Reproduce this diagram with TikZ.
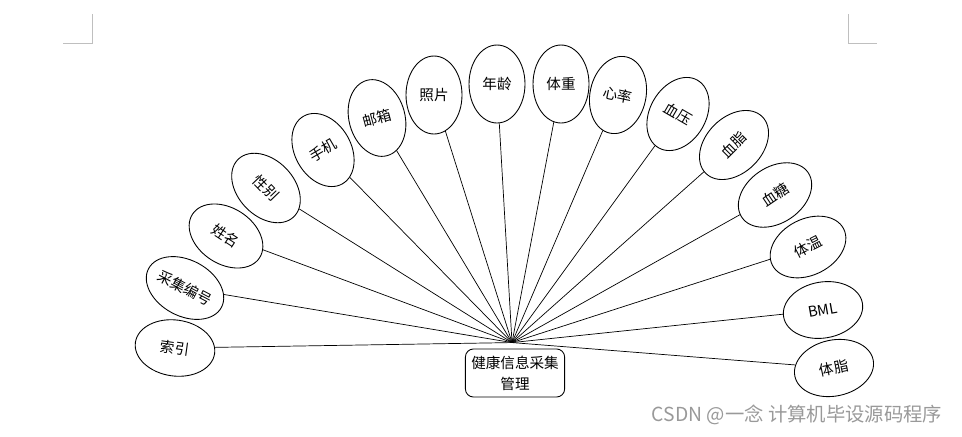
\documentclass[tikz,border=0pt]{standalone}
\usepackage{fontspec}
\setmainfont{Noto Sans CJK SC}
\usepackage{tikz}
\usetikzlibrary{shapes.geometric,positioning}

\begin{document}
\begin{tikzpicture}[x=0.02cm,y=-0.02cm,
    attrw/.style={draw,ellipse,line width=0.5pt,inner sep=0pt,minimum width=1.6cm,minimum height=1.12cm,font=\fontsize{8.3}{10}\selectfont},
    attrt/.style={attrw,minimum width=1.12cm,minimum height=1.56cm},
    entity/.style={draw,rounded corners=0.16cm,line width=0.5pt,align=center,minimum width=1.96cm,minimum height=0.96cm,font=\fontsize{8.3}{12}\selectfont}]
    \useasboundingbox (0,0) rectangle (962,436);
    % page corner marks
    \draw[black!25] (63,43) -- (92,43) -- (92,14);
    \draw[black!25] (848,14) -- (848,43) -- (877,43);
    \node[entity] (health) at (515,373) {健康信息采集\\管理};
    \coordinate (hub) at ([xshift=-0.06cm,yshift=0.12cm]health.north);
    % attributes, left to right
    \node[attrw,rotate=-8] (suoyin) at (175,348) {索引};
    \node[attrw,rotate=-28] (bianhao) at (185,288) {采集编号};
    \node[attrw,rotate=-33] (xingming) at (226,236) {姓名};
    \node[attrw,rotate=-46] (xingbie) at (266,188) {性别};
    \node[attrt,rotate=30] (shouji) at (323,150) {手机};
    \node[attrt,rotate=15] (youxiang) at (377,118) {邮箱};
    \node[attrt] (zhaopian) at (434,95) {照片};
    \node[attrt] (nianling) at (497,84) {年龄};
    \node[attrt] (tizhong) at (561,84) {体重};
    \node[attrt,rotate=-12] (xinlv) at (618,95) {心率};
    \node[attrt,rotate=-30] (xueya) at (678,114) {血压};
    \node[attrw,rotate=45] (xuezhi) at (734,145) {血脂};
    \node[attrw,rotate=34] (xuetang) at (775,195) {血糖};
    \node[attrw,rotate=27] (tiwen) at (808,247) {体温};
    \node[attrw,rotate=10] (bml) at (823,310) {BML};
    \node[attrw,rotate=12] (tizhi) at (834,368) {体脂};
    % spokes
    \draw (hub) -- (suoyin);
    \draw (hub) -- (bianhao);
    \draw (hub) -- (xingming);
    \draw (hub) -- (xingbie);
    \draw (hub) -- (shouji);
    \draw (hub) -- (youxiang);
    \draw (hub) -- (zhaopian);
    \draw (hub) -- (nianling);
    \draw (hub) -- (tizhong);
    \draw (hub) -- (xinlv);
    \draw (hub) -- (xueya);
    \draw (hub) -- (xuezhi);
    \draw (hub) -- (xuetang);
    \draw (hub) -- (tiwen);
    \draw (hub) -- (bml);
    \draw (hub) -- (tizhi);
    \node[black!40,font=\fontsize{11}{13}\selectfont] (csdn) at (797,415) {CSDN @一念 计算机毕设源码程序};
\end{tikzpicture}
\end{document}
